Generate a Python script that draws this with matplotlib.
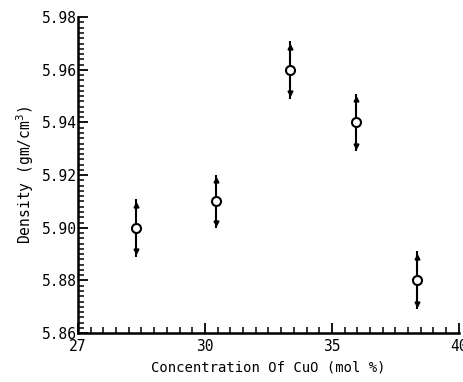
import matplotlib
matplotlib.use("Agg")
import matplotlib.pyplot as plt
import numpy as np
from matplotlib.ticker import MultipleLocator

conc = [27.3, 30.45, 33.35, 35.95, 38.35]
density = [5.900, 5.910, 5.960, 5.940, 5.880]
err = [0.011, 0.010, 0.011, 0.011, 0.011]
xtick_pos = [25, 30, 35, 40]
xtick_labels = ["27", "30", "35", "40"]
ytick_pos = [5.86, 5.88, 5.90, 5.92, 5.94, 5.96, 5.98]

plt.rcParams['font.family'] = ['DejaVu Sans Mono', 'DejaVu Sans']

fig = plt.figure(figsize=(4.64, 3.82), dpi=100)
ax = fig.add_axes([0.168, 0.128, 0.821, 0.827])

x = np.array(conc)
y = np.array(density)
e = np.array(err)
ax.errorbar(x, y, yerr=e, fmt='none', ecolor='black', elinewidth=1.5, capsize=0, zorder=2)
ax.plot(x, y + e * 0.8, ls='none', marker='^', ms=3.5, color='black', zorder=3)
ax.plot(x, y - e * 0.8, ls='none', marker='v', ms=3.5, color='black', zorder=3)
ax.plot(x, y, ls='none', marker='o', ms=6.5, mfc='white', mec='black', mew=1.5, zorder=4)

ax.set_xlim(25, 40)
ax.set_ylim(5.86, 5.98)
ax.set_xticks(xtick_pos)
ax.set_xticklabels(xtick_labels)
ax.set_yticks(ytick_pos)
ax.set_yticklabels([f"{v:.2f}" for v in ytick_pos])
ax.xaxis.set_minor_locator(MultipleLocator(0.5))
ax.yaxis.set_minor_locator(MultipleLocator(0.002))

for s in ['top', 'right']:
    ax.spines[s].set_visible(False)
for s in ['left', 'bottom']:
    ax.spines[s].set_linewidth(1.8)

ax.tick_params(axis='both', which='major', direction='in', length=7, width=1.3, labelsize=10.5, pad=1)
ax.tick_params(axis='both', which='minor', direction='in', length=4, width=1.1)
ax.tick_params(axis='x', which='major', pad=4)

ax.set_xlabel("Concentration Of CuO (mol %)", fontsize=10, labelpad=5)
ax.set_ylabel("Density (gm/cm$^3$)", fontsize=10.5, labelpad=4)

fig.savefig("out.png", dpi=100)
